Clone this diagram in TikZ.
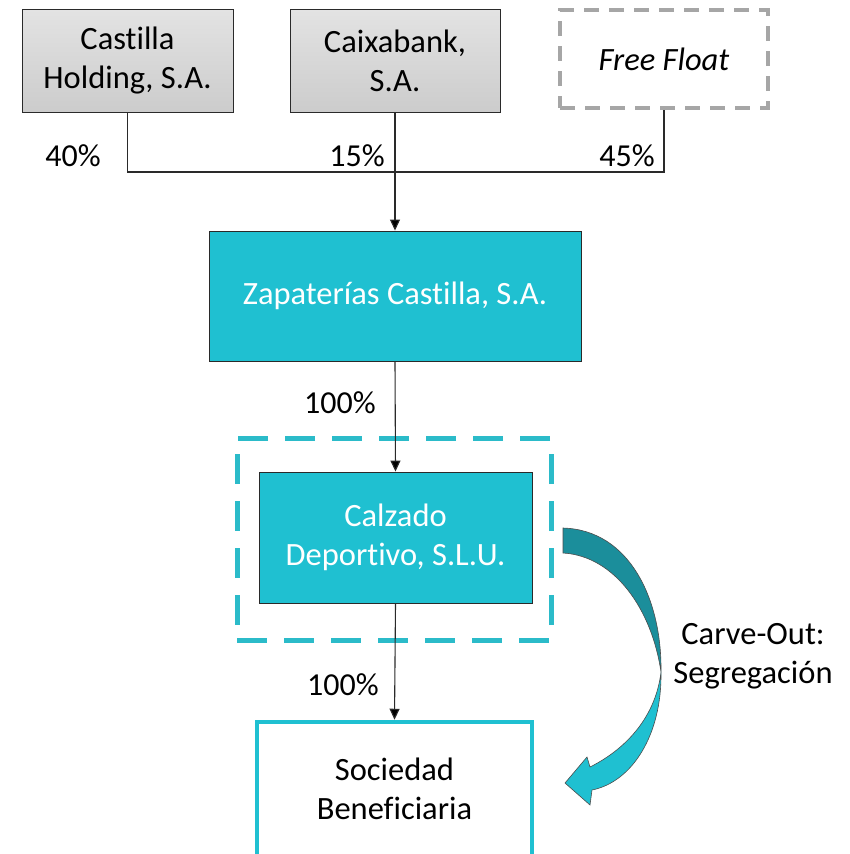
\documentclass[tikz,border=0pt]{standalone}
\usepackage{fontspec}
\setmainfont{Carlito}[RawFeature={-liga}]
\usetikzlibrary{arrows.meta}
\definecolor{teal1}{HTML}{1FC0D1}
\definecolor{tealdash}{HTML}{2BBBC9}
\definecolor{tealdark}{HTML}{1B8E9B}
\definecolor{linec}{HTML}{2A2A2A}
\definecolor{ffgray}{HTML}{A6A6A6}
\begin{document}
\begin{tikzpicture}[x=1pt,y=-1pt,
  txt/.style={font=\fontsize{32.5}{39}\selectfont, align=center},
  graybox/.style={txt, draw=linec, line width=0.9pt, top color=gray!22, bottom color=gray!40, inner sep=0pt},
  tealbox/.style={txt, draw=linec, line width=0.9pt, fill=teal1, text=white, inner sep=0pt},
  ffbox/.style={txt, draw=ffgray, line width=4pt, dash pattern=on 15pt off 10pt, inner sep=0pt},
  dashbox/.style={draw=tealdash, line width=5pt, dash pattern=on 30pt off 17pt, inner sep=0pt},
  outbox/.style={txt, draw=teal1, line width=4.5pt, fill=white, inner sep=0pt},
  conn/.style={draw=linec, line width=1.1pt},
  arr/.style={conn, -{Triangle[length=11pt,width=10pt,fill=black]}, shorten >=0pt},
  pct/.style={font=\fontsize{32}{38}\selectfont, inner sep=0pt}
]
\useasboundingbox (0,0) rectangle (850,854);

\node[graybox, minimum width=211pt, minimum height=103pt] (ch) at (127.5,60.5) {Castilla\\Holding, S.A.};
\node[graybox, minimum width=210pt, minimum height=103pt] (cb) at (395,60.5) {Caixabank,\\S.A.};
\node[ffbox, minimum width=208pt, minimum height=98pt] (ff) at (664,59) {\itshape Free Float};

\node[tealbox, minimum width=372pt, minimum height=130pt] (zap) at (395,296) {Zapaterías Castilla, S.A.};

\node[dashbox, minimum width=314pt, minimum height=202pt] (dbox) at (394,539) {};
\node[tealbox, minimum width=273pt, minimum height=131pt] (calz) at (395.5,537.5) {Calzado\\Deportivo, S.L.U.};

\node[outbox, minimum width=275pt, minimum height=134pt] (soc) at (394.5,789) {Sociedad\\Beneficiaria};

\coordinate (j) at (395,172);
\draw[conn] (ch.south) |- (j);
\draw[conn] (ff.south) |- (j);
\draw[arr] (cb.south) -- (zap.north);
\draw[arr] (zap.south) -- (calz.north);
\draw[arr] (calz.south) -- (soc.north);

\node[pct] (p40) at (73,156) {40\%};
\node[pct] (p15) at (357,156) {15\%};
\node[pct] (p45) at (627,156) {45\%};
\node[pct] (p100a) at (340,403) {100\%};
\node[pct] (p100b) at (343,685) {100\%};

\node[txt] (carve) at (753,656) {Carve-Out:\\Segregación};

% curved arrow
\filldraw[draw=black!70, line width=0.6pt, fill=tealdark]
  (563,528) .. controls (630,530) and (662,600) .. (661,672)
  .. controls (652,610) and (615,556) .. (563,553) -- cycle;
\filldraw[draw=black!70, line width=0.6pt, fill=teal1]
  (661,672) .. controls (662,735) and (632,782) .. (592,790)
  -- (590,805) -- (565,783) -- (587,757) -- (590,767)
  .. controls (628,748) and (656,715) .. (661,672) -- cycle;
\end{tikzpicture}
\end{document}
